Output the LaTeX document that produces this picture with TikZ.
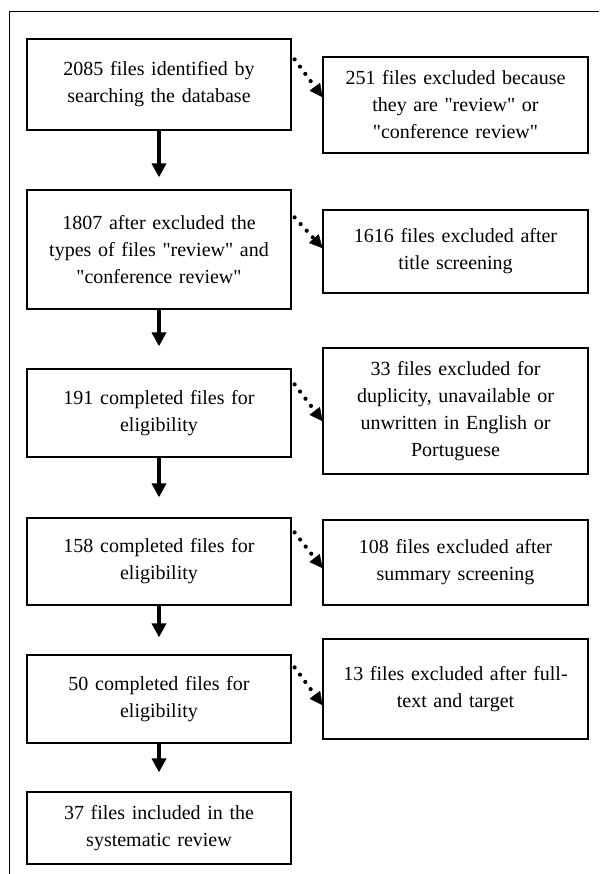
\documentclass[tikz,border=0pt]{standalone}
\usepackage{fontspec}
\setmainfont{Liberation Serif}
\usetikzlibrary{arrows.meta}
\newcommand{\qt}[1]{\textquotedbl#1\textquotedbl}

\begin{document}
\begin{tikzpicture}[x=1pt,y=-1pt,
   stage/.style={draw,line width=1.2pt,minimum width=264pt,inner xsep=4pt,text width=256pt,
      align=center,font=\fontsize{20}{27}\selectfont},
   excl/.style={stage,minimum width=265pt},
   flow/.style={line width=3.6pt,-{Triangle[width=14pt,length=14pt]}},
   skip/.style={line width=4.2pt,line cap=round,dash pattern=on 0pt off 9pt,
      -{Triangle[width=13pt,length=13pt,line width=0.4pt,round]}}]
   \useasboundingbox (0,0) rectangle (599,874);
   \draw[line width=0.9pt] (9,874) -- (9,11) -- (599,11);

   \node[stage,minimum height=91pt] (a) at (159,84.5) {2085 files identified by\\searching the database};
   \node[stage,minimum height=119pt] (b) at (159,249.5) {1807 after excluded the\\types of files \qt{review} and\\\qt{conference review}};
   \node[stage,minimum height=88pt] (c) at (159,413) {191 completed files for\\eligibility};
   \node[stage,minimum height=87pt] (d) at (159,561.5) {158 completed files for\\eligibility};
   \node[stage,minimum height=88pt] (e) at (159,699) {50 completed files for\\eligibility};
   \node[stage,minimum height=72pt] (f) at (159,828) {37 files included in the\\systematic review};

   \node[excl,minimum height=96pt] (g) at (455.5,105) {251 files excluded because\\they are \qt{review} or\\\qt{conference review}};
   \node[excl,minimum height=83pt] (h) at (455.5,251.5) {1616 files excluded after\\title screening};
   \node[excl,minimum height=126pt] (i) at (455.5,411) {33 files excluded for\\duplicity, unavailable or\\unwritten in English or\\Portuguese};
   \node[excl,minimum height=85pt] (j) at (455.5,562.5) {108 files excluded after\\summary screening};
   \node[excl,minimum height=100pt] (k) at (455.5,689) {13 files excluded after full-\\text and target};

   \draw[flow,shorten >=12pt] (a) -- (b);
   \draw[flow,shorten >=22pt] (b) -- (c);
   \draw[flow,shorten >=20pt] (c) -- (d);
   \draw[flow,shorten >=17pt] (d) -- (e);
   \draw[flow,shorten >=19pt] (e) -- (f);

   \draw[skip] ([shift={(3,21)}]a.north east) -- ([yshift=8pt]g.west);
   \draw[skip] ([shift={(3,28)}]b.north east) -- ([yshift=3.5pt]h.west);
   \draw[skip] ([shift={(3,16)}]c.north east) -- ([yshift=-10pt]i.west);
   \draw[skip] ([shift={(3,15)}]d.north east) -- ([yshift=-5.5pt]j.west);
   \draw[skip] ([shift={(3,13)}]e.north east) -- ([yshift=-16pt]k.west);
\end{tikzpicture}
\end{document}
